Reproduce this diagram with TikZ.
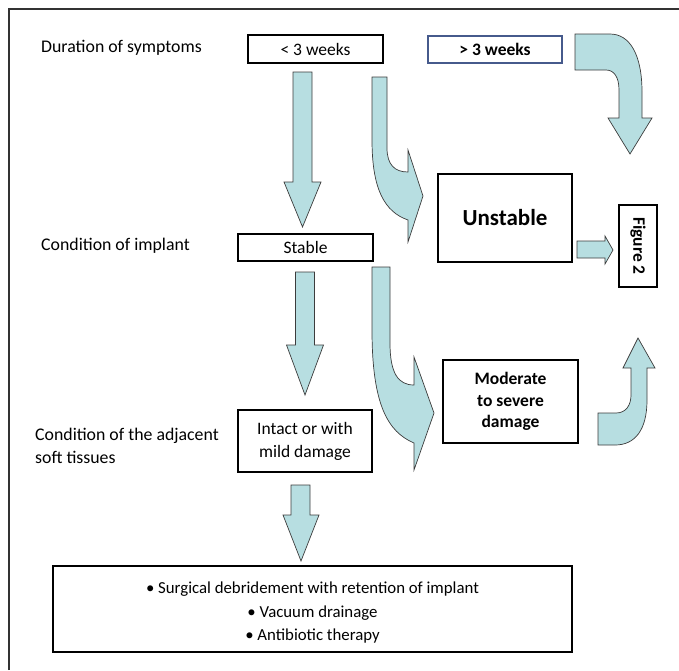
\documentclass[tikz,border=0pt]{standalone}
\usepackage{fontspec}
\setmainfont{Carlito}
\definecolor{ArrowFill}{RGB}{183, 222, 225}
\definecolor{ArrowLine}{RGB}{60, 60, 60}
\definecolor{WeekBlue}{RGB}{70, 90, 140}
\usepackage{tikz}
\usetikzlibrary{positioning, calc}

\begin{document}
\begin{tikzpicture}[
            x=1pt, y=-1pt,
            box/.style={rectangle, draw=black, line width=1.1pt, inner sep=0pt,
                        align=center, font=\fontsize{17.5}{23}\selectfont},
            label/.style={anchor=west, align=left, inner sep=0pt,
                        font=\fontsize{17.8}{23}\selectfont},
            fatarrow/.style={fill=ArrowFill, draw=ArrowLine, line width=0.7pt, line join=miter}
        ]
            \useasboundingbox (0,0) rectangle (679,670);
            % frame
            \draw[line width=1.4pt, black!80] (9,670) -- (9,9) -- (679,9);

            % row labels
            \node[label] (dur) at (41,48) {Duration of symptoms};
            \node[label] (impl) at (41,246) {Condition of implant};
            \node[label] (soft) at (35,446) {Condition of the adjacent\\soft tissues};

            % boxes
            \node[box, minimum width=135, minimum height=28] (short) at (315.5,49) {< 3 weeks};
            \node[box, draw=WeekBlue, minimum width=134, minimum height=27, font=\fontsize{17.5}{23}\selectfont\bfseries] (long) at (495,49.5) {> 3 weeks};
            \node[box, minimum width=134, minimum height=88, font=\fontsize{23}{28}\selectfont\bfseries] (unstable) at (505,218) {Unstable};
            \node[box, rotate=-90, minimum width=82, minimum height=38, font=\fontsize{17.5}{23}\selectfont\bfseries] (fig) at (638,246) {Figure 2};
            \node[box, minimum width=135, minimum height=27] (stable) at (305.5,247.5) {Stable};
            \node[box, minimum width=135, minimum height=83, font=\fontsize{17.5}{21.5}\selectfont\bfseries] (modsev) at (510.5,401.5) {Moderate\\to severe\\damage};
            \node[box, minimum width=134, minimum height=62] (intact) at (305,441) {Intact or with\\mild damage};
            \node[box, minimum width=519, minimum height=86, font=\fontsize{16.8}{23.5}\selectfont] (therapy) at (312.5,609) {};
            \node[align=center, inner sep=0pt, font=\fontsize{16.8}{23.5}\selectfont] (items) at ($(therapy)+(0,4)$)
                {\textbullet{} Surgical debridement with retention of implant\\
                 \textbullet{} Vacuum drainage\\
                 \textbullet{} Antibiotic therapy};

            % straight block arrows
            \draw[fatarrow] (293,72) -- (312,72) -- (312,182) -- (321,182) -- (302.5,227)
                -- (284,182) -- (293,182) -- cycle;
            \draw[fatarrow] (295.5,272) -- (314.5,272) -- (314.5,345) -- (323.5,345) -- (305,395)
                -- (286.5,345) -- (295.5,345) -- cycle;
            \draw[fatarrow] (291,485) -- (310,485) -- (310,515) -- (319,515) -- (301,561)
                -- (283,515) -- (291,515) -- cycle;
            \draw[fatarrow] (577,241) -- (605,241) -- (605,236) -- (613,250) -- (605,264)
                -- (605,258) -- (577,258) -- cycle;

            % bent block arrows
            \draw[fatarrow] (372,77) -- (387,77) -- (387,148) .. controls (387,165) and (395,172) .. (408,172)
                -- (408,150) -- (423,196) -- (408,242) -- (408,220)
                .. controls (385,212) and (372,190) .. (372,140) -- cycle;
            \draw[fatarrow] (372,267) -- (390,267) -- (390,343) .. controls (390,373) and (398,385) .. (414,385)
                -- (414,357) -- (434,413) -- (414,470) -- (414,443)
                .. controls (388,432) and (372,405) .. (372,330) -- cycle;
            \draw[fatarrow] (575,34) -- (610,34) .. controls (630,34) and (642,55) .. (642,92)
                -- (642,118) -- (652,118) -- (630,154) -- (608,118) -- (619,118)
                -- (619,90) .. controls (619,77) and (614,70) .. (606,70) -- (575,70) -- cycle;
            \draw[fatarrow] (598,413) -- (616,413) .. controls (626,413) and (631,405) .. (631,395)
                -- (631,368) -- (623,368) -- (638,338) -- (655,368) -- (647,368)
                -- (647,400) .. controls (647,430) and (635,445) .. (615,445) -- (598,445) -- cycle;
        \end{tikzpicture}
\end{document}
